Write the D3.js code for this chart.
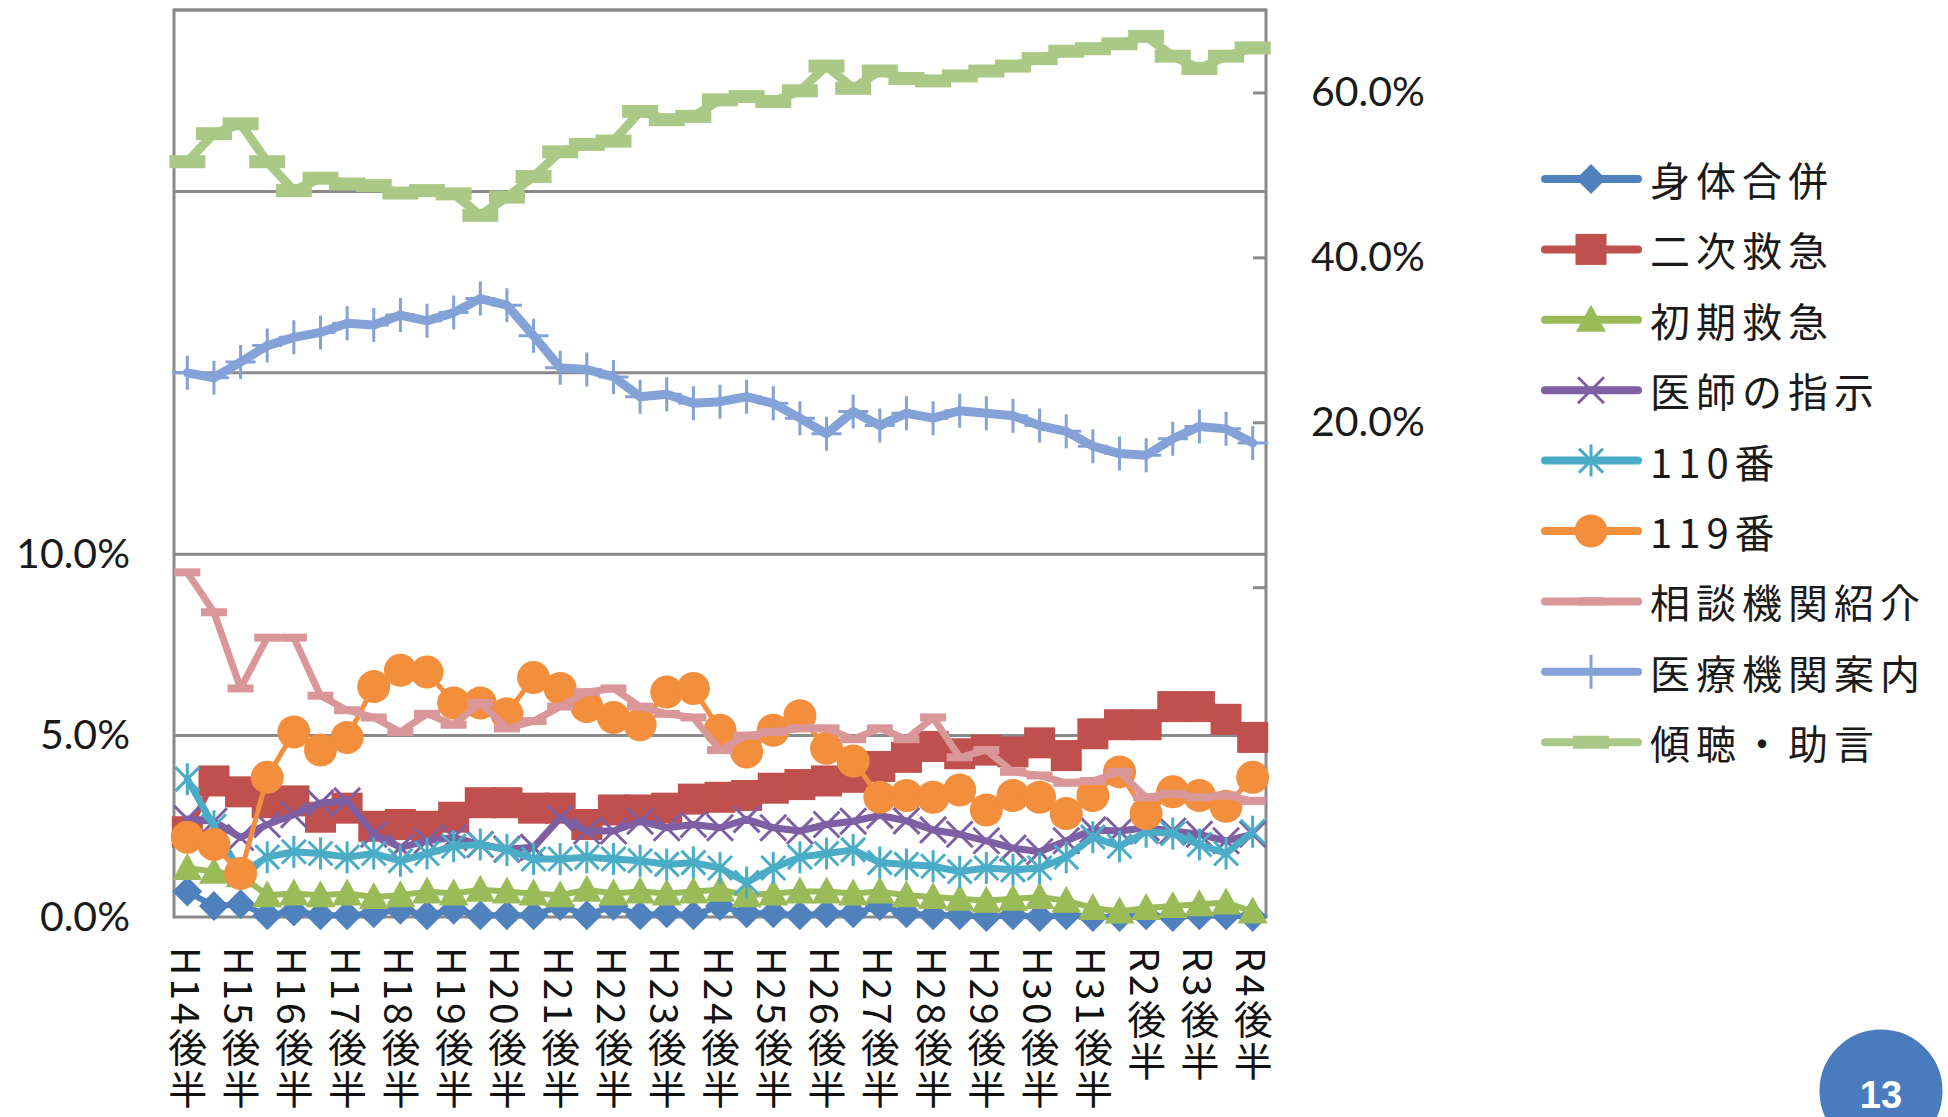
<!DOCTYPE html>
<html><head><meta charset="utf-8">
<script src="https://cdn.jsdelivr.net/npm/d3@7"></script>
<style>
html,body{margin:0;padding:0;background:#fff;}
svg{display:block;}
</style>
</head><body>
<svg id="chart" width="1948" height="1117"></svg>
<script>
// ---------- DATA ----------
const categories = ["H14後半","H15前半","H15後半","H16前半","H16後半","H17前半","H17後半","H18前半","H18後半","H19前半","H19後半","H20前半","H20後半","H21前半","H21後半","H22前半","H22後半","H23前半","H23後半","H24前半","H24後半","H25前半","H25後半","H26前半","H26後半","H27前半","H27後半","H28前半","H28後半","H29前半","H29後半","H30前半","H30後半","H31前半","H31後半","R2前半","R2後半","R3前半","R3後半","R4前半","R4後半"];
const tickLabels = categories.filter((c, i) => i % 2 === 0);

const seriesNames = ["身体合併","二次救急","初期救急","医師の指示","110番","119番","相談機関紹介","医療機関案内","傾聴・助言"];

const shintaiGappei = [0.7,0.3,0.35,0.05,0.15,0.05,0.05,0.1,0.2,0.05,0.2,0.05,0.05,0.05,0.3,0.05,0.3,0.05,0.1,0.05,0.3,0.1,0.1,0.05,0.1,0.1,0.3,0.1,0.05,0.05,0.0,0.05,0.0,0.05,0.0,0.0,0.05,0.0,0.05,0.05,0.0];
const nijiKyukyu = [2.35,3.75,3.45,3.15,3.2,2.75,3.0,2.5,2.55,2.5,2.75,3.15,3.15,3.0,3.0,2.55,2.95,2.95,3.0,3.25,3.3,3.35,3.55,3.65,3.75,3.85,4.15,4.4,4.7,4.5,4.6,4.55,4.8,4.45,5.05,5.3,5.3,5.8,5.8,5.45,4.95];
const shokiKyukyu = [1.35,1.25,1.15,0.6,0.65,0.6,0.65,0.55,0.6,0.7,0.65,0.75,0.7,0.65,0.6,0.75,0.65,0.7,0.65,0.7,0.75,0.6,0.65,0.7,0.7,0.65,0.7,0.6,0.55,0.5,0.45,0.5,0.55,0.45,0.25,0.15,0.25,0.3,0.35,0.4,0.15];
const ishiShiji = [2.7,2.64,2.19,2.55,2.82,3.14,3.2,2.28,1.92,2.1,2.19,2.0,1.87,1.92,2.73,2.37,2.37,2.64,2.46,2.55,2.46,2.69,2.46,2.37,2.55,2.64,2.8,2.65,2.4,2.28,2.1,1.9,1.8,2.1,2.4,2.37,2.46,2.37,2.28,2.1,2.28];
const ban110 = [3.8,2.5,1.2,1.65,1.8,1.75,1.65,1.75,1.55,1.75,1.95,2.0,1.85,1.6,1.6,1.65,1.6,1.55,1.45,1.5,1.35,0.95,1.35,1.65,1.75,1.85,1.5,1.45,1.4,1.25,1.35,1.3,1.35,1.65,2.2,1.95,2.35,2.3,2.0,1.75,2.35];
const ban119 = [2.2,2.0,1.2,3.85,5.1,4.6,4.95,6.35,6.8,6.75,5.9,5.9,5.6,6.6,6.3,5.8,5.5,5.3,6.2,6.3,5.15,4.55,5.15,5.55,4.65,4.3,3.3,3.35,3.3,3.5,2.95,3.35,3.3,2.85,3.35,4.0,2.85,3.45,3.35,3.05,3.85];
const soudanKikan = [9.5,8.4,6.3,7.7,7.7,6.1,5.7,5.5,5.1,5.6,5.3,5.9,5.2,5.4,5.8,6.2,6.3,5.8,5.6,5.5,4.6,5.0,5.1,5.2,5.2,4.9,5.2,4.9,5.5,4.4,4.6,4.0,3.9,3.7,3.75,4.0,3.3,3.4,3.3,3.35,3.2];
const iryoKikan = [26.0,25.4,27.3,29.3,30.3,30.9,32.0,31.8,33.0,32.3,33.3,35.0,34.2,30.5,26.6,26.4,25.5,23.1,23.4,22.3,22.5,23.1,22.3,20.5,18.6,21.3,19.6,21.1,20.5,21.4,21.1,20.8,19.6,18.9,17.1,16.2,16.0,18.0,19.5,19.2,17.5];
const keichoJogen = [51.6,55.0,56.2,51.6,48.1,49.6,48.9,48.7,47.8,48.1,47.7,45.1,47.3,49.8,52.8,53.7,54.1,57.7,56.7,57.1,59.1,59.5,58.9,60.2,63.2,60.5,62.6,61.7,61.4,62.0,62.6,63.2,64.1,65.0,65.3,65.9,66.8,64.4,62.9,64.4,65.4];

const leftTicks = [0, 5, 10];
const gridValues = [5, 10, 15, 20, 25];
const rightTicks = [0, 20, 40, 60];

// ---------- LAYOUT / STYLE ----------
const W = 1948, H = 1117;
const plot = {left: 174, right: 1266, top: 10, bottom: 917};
const svg = d3.select("#chart");
svg.append("rect").attr("width", W).attr("height", H).attr("fill", "#fff");

const x = d3.scalePoint().domain(categories).range([plot.left, plot.right]).padding(0.5);
const yLow = d3.scaleLinear().domain([0, 25]).range([plot.bottom, plot.top]);   // left axis chart
const yHigh = d3.scaleLinear().domain([-40, 70]).range([plot.bottom, plot.top]); // right axis chart

const gridColor = "#8a8a8a";
const latin = "Lato, 'Liberation Sans', sans-serif";
const cjk = "'Noto Sans CJK JP', 'Noto Sans', sans-serif";

// gridlines
svg.append("g").selectAll("line").data(gridValues).join("line")
  .attr("x1", plot.left).attr("x2", plot.right)
  .attr("y1", d => yLow(d)).attr("y2", d => yLow(d))
  .attr("stroke", gridColor).attr("stroke-width", 3);

// plot frame
svg.append("path")
  .attr("d", `M${plot.left},${plot.bottom}V${plot.top}H${plot.right}V${plot.bottom}Z`)
  .attr("fill", "none").attr("stroke", gridColor).attr("stroke-width", 3);

// left axis
const leftAxis = svg.append("g").attr("transform", `translate(${plot.left},0)`)
  .call(d3.axisLeft(yLow).tickValues(leftTicks).tickSize(0).tickPadding(44).tickFormat(d => d.toFixed(1) + "%"));
leftAxis.select(".domain").remove();
leftAxis.selectAll("text").attr("font-family", latin).attr("font-size", 41).attr("fill", "#1a1a1a");

// right axis
const rightAxis = svg.append("g").attr("transform", `translate(${plot.right},0)`)
  .call(d3.axisRight(yHigh).tickValues(rightTicks).tickSize(-13).tickPadding(45).tickFormat(d => d === 0 ? "" : d.toFixed(1) + "%"));
rightAxis.select(".domain").remove();
rightAxis.selectAll("line").attr("stroke", gridColor).attr("stroke-width", 3);
rightAxis.selectAll("text").attr("font-family", latin).attr("font-size", 41).attr("fill", "#1a1a1a");

// bottom axis (vertical labels)
const bottomAxis = svg.append("g").attr("transform", `translate(0,${plot.bottom})`)
  .call(d3.axisBottom(x).tickValues(tickLabels).tickSize(0));
bottomAxis.select(".domain").remove();
bottomAxis.selectAll("text")
  .attr("y", 30).attr("dy", null).attr("x", 0)
  .attr("text-anchor", "start")
  .style("writing-mode", "vertical-rl")
  .attr("font-family", cjk).attr("font-size", 39).attr("letter-spacing", 3).attr("fill", "#111");

// ---------- SERIES ----------
const series = [
  {name: seriesNames[0], values: shintaiGappei, scale: yLow, color: "#4F81BD", width: 6, marker: "diamond"},
  {name: seriesNames[1], values: nijiKyukyu, scale: yLow, color: "#C0504D", width: 6, marker: "square"},
  {name: seriesNames[2], values: shokiKyukyu, scale: yLow, color: "#9BBB59", width: 6, marker: "triangle"},
  {name: seriesNames[3], values: ishiShiji, scale: yLow, color: "#7E5FA3", width: 7, marker: "x"},
  {name: seriesNames[4], values: ban110, scale: yLow, color: "#4AACC6", width: 7, marker: "asterisk"},
  {name: seriesNames[5], values: ban119, scale: yLow, color: "#F28E3C", width: 5, marker: "circle"},
  {name: seriesNames[6], values: soudanKikan, scale: yLow, color: "#D9979A", width: 7, marker: "dashThin"},
  {name: seriesNames[7], values: iryoKikan, scale: yHigh, color: "#84A2D8", width: 9, marker: "plus"},
  {name: seriesNames[8], values: keichoJogen, scale: yHigh, color: "#ABC986", width: 9, marker: "dashThick"}
];

function drawMarker(g, type, color) {
  switch (type) {
    case "diamond":
      g.append("path").attr("d", "M0,-15L15,0L0,15L-15,0Z").attr("fill", color); break;
    case "square":
      g.append("rect").attr("x", -15.5).attr("y", -15.5).attr("width", 31).attr("height", 31).attr("fill", color); break;
    case "triangle":
      g.append("path").attr("d", "M0,-15L15,12L-15,12Z").attr("fill", color); break;
    case "x":
      g.append("path").attr("d", "M-13,-13L13,13M-13,13L13,-13").attr("stroke", color).attr("stroke-width", 3).attr("fill", "none"); break;
    case "asterisk":
      g.append("path").attr("d", "M-12,-12L12,12M-12,12L12,-12M0,-16V16").attr("stroke", color).attr("stroke-width", 3).attr("fill", "none"); break;
    case "circle":
      g.append("circle").attr("r", 16.5).attr("fill", color); break;
    case "dashThin":
      g.append("rect").attr("x", -13).attr("y", -4).attr("width", 26).attr("height", 8).attr("fill", color); break;
    case "dashThick":
      g.append("rect").attr("x", -18).attr("y", -6.5).attr("width", 36).attr("height", 13).attr("fill", color); break;
    case "plus":
      g.append("path").attr("d", "M0,-17V17M-15,0H15").attr("stroke", color).attr("stroke-width", 3).attr("fill", "none"); break;
  }
}

const seriesLayer = svg.append("g");
series.forEach(s => {
  const line = d3.line().x((v, i) => x(categories[i])).y(v => s.scale(v));
  const g = seriesLayer.append("g");
  g.append("path").datum(s.values).attr("d", line)
    .attr("fill", "none").attr("stroke", s.color).attr("stroke-width", s.width)
    .attr("stroke-linejoin", "round").attr("stroke-linecap", "round");
  g.selectAll("g.m").data(s.values).join("g").attr("class", "m")
    .attr("transform", (v, i) => `translate(${x(categories[i])},${s.scale(v)})`)
    .each(function() { drawMarker(d3.select(this), s.marker, s.color); });
});

// ---------- LEGEND ----------
const legend = svg.append("g");
series.forEach((s, k) => {
  const yy = 179 + 70.4 * k;
  const g = legend.append("g").attr("transform", `translate(0,${yy})`);
  g.append("line").attr("x1", 1545).attr("x2", 1638).attr("y1", 0).attr("y2", 0)
    .attr("stroke", s.color).attr("stroke-width", 8).attr("stroke-linecap", "round");
  const mg = g.append("g").attr("transform", "translate(1591,0)");
  drawMarker(mg, s.marker, s.color);
  g.append("text").attr("x", 1650).attr("y", 0).attr("dominant-baseline", "central")
    .attr("font-family", cjk).attr("font-size", 40).attr("letter-spacing", 6).attr("fill", "#1a1a1a")
    .text(s.name);
});

// page number badge
svg.append("circle").attr("cx", 1881).attr("cy", 1091).attr("r", 63).attr("fill", "#4A7BBE").attr("stroke", "#fff").attr("stroke-width", 3);
svg.append("text").attr("x", 1881).attr("y", 1108).attr("text-anchor", "middle")
  .attr("font-family", "'Liberation Sans', Arial, sans-serif").attr("font-weight", "bold").attr("font-size", 38).attr("fill", "#fff").text("13");
</script>
</body></html>
